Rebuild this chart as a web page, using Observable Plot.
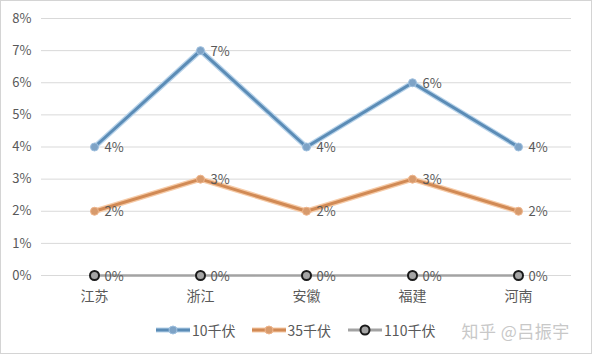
<!DOCTYPE html>
<html>
<head>
<meta charset="utf-8">
<script src="https://cdn.jsdelivr.net/npm/d3@7"></script>
<script src="https://cdn.jsdelivr.net/npm/@observablehq/plot@0.6"></script>
<style>
  body { margin: 0; background: #fff; }
  #frame { position: relative; width: 592px; height: 354px; box-sizing: border-box; border: 1px solid #d4d4d4; background: #fff; font-family: "Noto Sans CJK SC", sans-serif; overflow: hidden; }
  #chart svg { display: block; }
  #legend { position: absolute; top: 318px; left: 0; width: 590px; height: 22px; display: flex; align-items: center; padding-left: 154px; box-sizing: border-box; font-size: 14px; color: #595959; }
  .item { display: flex; align-items: center; }
  .item svg { display: block; margin-right: 1px; }
  .wm { color: #c8c8c8; font-size: 17px; letter-spacing: 0.5px; }
</style>
</head>
<body>
<div id="frame">
  <div id="chart"></div>
  <div id="legend"></div>
</div>
<script>
const categories = ["江苏", "浙江", "安徽", "福建", "河南"];
const seriesNames = ["10千伏", "35千伏", "110千伏"];
const values10 = [0.04, 0.07, 0.04, 0.06, 0.04];
const values35 = [0.02, 0.03, 0.02, 0.03, 0.02];
const values110 = [0, 0, 0, 0, 0];
const yTicks = [0, 0.01, 0.02, 0.03, 0.04, 0.05, 0.06, 0.07, 0.08];
const watermark = "知乎 @吕振宇";

const lineColors = ["#5b8cb6", "#d18a55", "#a3a3a3"];
const haloColors = ["#b8d3ea", "#f6cba8", "#d0d0d0"];
const dotFill = ["#7ea3c6", "#d79a6c", "#a5a5a5"];
const dotStroke = ["#9fc0df", "#eeb48a", "#1a1a1a"];

const allValues = [values10, values35, values110];
const rows = [];
allValues.forEach((vals, si) => {
  categories.forEach((c, i) => rows.push({ series: seriesNames[si], si, cat: c, value: vals[i] }));
});
const bySeries = si => rows.filter(d => d.si === si);

const marks = [
  Plot.gridY(yTicks, { stroke: "#d9d9d9", strokeOpacity: 1, strokeWidth: 1 })
];
[0, 1].forEach(si => {
  marks.push(Plot.line(bySeries(si), { x: "cat", y: "value", stroke: haloColors[si], strokeWidth: 5.5 }));
  marks.push(Plot.line(bySeries(si), { x: "cat", y: "value", stroke: lineColors[si], strokeWidth: 3 }));
});
marks.push(Plot.line(bySeries(2), { x: "cat", y: "value", stroke: lineColors[2], strokeWidth: 2.5 }));
[0, 1].forEach(si => {
  marks.push(Plot.dot(bySeries(si), { x: "cat", y: "value", r: 4, fill: dotFill[si], stroke: dotStroke[si], strokeWidth: 1 }));
});
marks.push(Plot.dot(bySeries(2), { x: "cat", y: "value", r: 4.5, fill: dotFill[2], stroke: dotStroke[2], strokeWidth: 2 }));
marks.push(Plot.text(rows, {
  x: "cat", y: "value",
  text: d => Math.round(d.value * 100) + "%",
  dx: 10, dy: 1, textAnchor: "start", fill: "#595959", fontSize: 13
}));

const chart = Plot.plot({
  width: 590,
  height: 308,
  marginLeft: 40,
  marginRight: 20,
  marginTop: 17,
  marginBottom: 34,
  style: { fontFamily: "'Noto Sans CJK SC', sans-serif", fontSize: "13px", color: "#595959", background: "transparent" },
  x: { type: "point", domain: categories, padding: 0.49, label: null },
  y: { domain: [0, 0.08], label: null },
  axis: null,
  marks: [
    ...marks,
    Plot.axisX({ tickSize: 0, tickPadding: 16, fontSize: 14, fill: "#595959" }),
    Plot.axisY(yTicks, { tickSize: 0, tickPadding: 10, tickFormat: d => Math.round(d * 100) + "%", fontSize: 13, fill: "#595959" })
  ]
});
document.getElementById("chart").appendChild(chart);

// Legend
const legend = document.getElementById("legend");
const gaps = [0, 15, 16];
seriesNames.forEach((name, si) => {
  const item = document.createElement("div");
  item.className = "item";
  item.style.marginLeft = gaps[si] + "px";
  const is110 = si === 2;
  item.innerHTML =
    `<svg width="36" height="14">` +
    `<line x1="1" x2="35" y1="7" y2="7" stroke="${is110 ? lineColors[si] : haloColors[si]}" stroke-width="${is110 ? 3 : 5}"/>` +
    (is110 ? "" : `<line x1="1" x2="35" y1="7" y2="7" stroke="${lineColors[si]}" stroke-width="3"/>`) +
    `<circle cx="18" cy="7" r="${is110 ? 4.5 : 4}" fill="${dotFill[si]}" stroke="${dotStroke[si]}" stroke-width="${is110 ? 2 : 1}"/>` +
    `</svg><span>${name}</span>`;
  legend.appendChild(item);
});
const wm = document.createElement("div");
wm.className = "wm";
wm.style.marginLeft = "26px";
wm.textContent = watermark;
legend.appendChild(wm);
</script>
</body>
</html>
